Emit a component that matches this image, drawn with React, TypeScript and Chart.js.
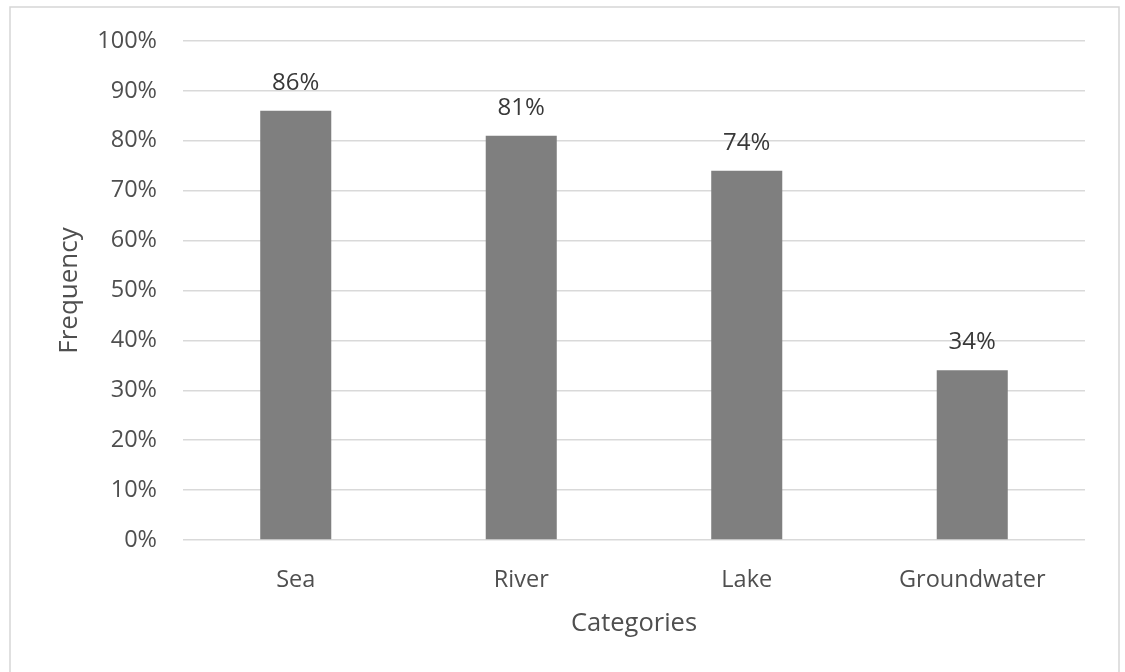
import React, { useEffect, useRef } from "react";
import { Chart, registerables } from "chart.js";

Chart.register(...registerables);

const categories: string[] = ["Sea", "River", "Lake", "Groundwater"];
const frequencies: number[] = [86, 81, 74, 34];
const yTickMax = 100;
const yTickStep = 10;
const xTitle = "Categories";
const yTitle = "Frequency";

const FONT = "'Open Sans', 'Noto Sans', sans-serif";
const TEXT = "#4f4f4f";

const frameAndLabels = {
  id: "frameAndLabels",
  beforeDraw(chart: any) {
    const ctx = chart.ctx;
    ctx.save();
    ctx.fillStyle = "#ffffff";
    ctx.fillRect(0, 0, chart.width, chart.height);
    ctx.strokeStyle = "#d6d6d6";
    ctx.lineWidth = 1.5;
    ctx.strokeRect(10, 7, 1109, 700);
    ctx.restore();
  },
  afterDatasetsDraw(chart: any) {
    const ctx = chart.ctx;
    const meta = chart.getDatasetMeta(0);
    const data = chart.data.datasets[0].data as number[];
    ctx.save();
    ctx.font = `24px ${FONT}`;
    ctx.fillStyle = "#383838";
    ctx.textAlign = "center";
    ctx.textBaseline = "alphabetic";
    meta.data.forEach((bar: any, i: number) => {
      ctx.fillText(`${data[i]}%`, bar.x, bar.y - 21);
    });
    ctx.restore();
  },
};

export default function App() {
  const ref = useRef<HTMLCanvasElement | null>(null);

  useEffect(() => {
    if (!ref.current) return;
    const chart = new Chart(ref.current, {
      type: "bar",
      data: {
        labels: categories,
        datasets: [
          {
            data: frequencies,
            backgroundColor: "#7f7f7f",
            borderWidth: 0,
            categoryPercentage: 1,
            barPercentage: 0.315,
          },
        ],
      },
      options: {
        animation: false,
        responsive: false,
        devicePixelRatio: 1,
        layout: { padding: { left: 0, top: 41, right: 40, bottom: 0 } },
        plugins: {
          legend: { display: false },
          tooltip: { enabled: false },
        },
        scales: {
          x: {
            grid: { display: false },
            border: { display: false },
            ticks: {
              color: TEXT,
              font: { family: FONT, size: 23.5 },
              padding: 18,
            },
            title: {
              display: true,
              text: xTitle,
              color: TEXT,
              font: { family: FONT, size: 25.5 },
              padding: { top: 0, bottom: 33 },
            },
            afterFit(scale: any) {
              scale.height = 132;
            },
          },
          y: {
            min: 0,
            max: yTickMax,
            ticks: {
              stepSize: yTickStep,
              color: TEXT,
              font: { family: FONT, size: 23.5 },
              padding: 26,
              callback: (v: any) => `${v}%`,
            },
            grid: { color: "#d9d9d9", lineWidth: 1.5, drawTicks: false },
            border: { display: false },
            title: {
              display: true,
              text: yTitle,
              color: TEXT,
              font: { family: FONT, size: 26 },
              padding: { top: 54, bottom: 0 },
            },
            afterFit(scale: any) {
              scale.width = 183;
            },
          },
        },
      },
      plugins: [frameAndLabels],
    });
    return () => chart.destroy();
  }, []);

  return (
    <div style={{ position: "fixed", left: 0, top: 0, width: 1125, height: 672, background: "#fff" }}>
      <canvas ref={ref} width={1125} height={672} />
    </div>
  );
}
